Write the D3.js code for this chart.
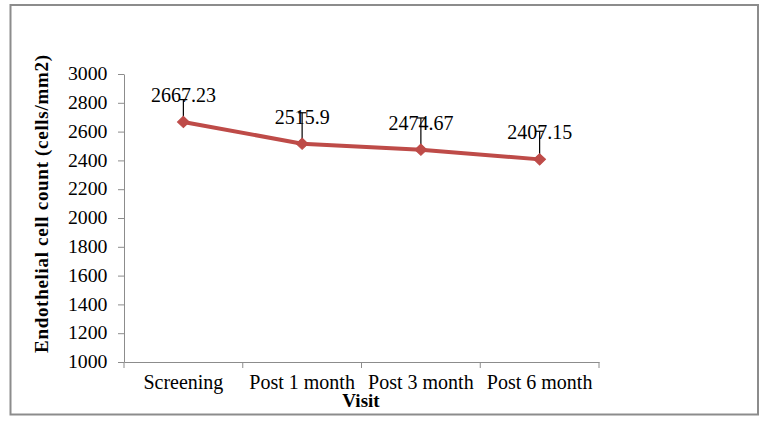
<!DOCTYPE html>
<html>
<head>
<meta charset="utf-8">
<script src="https://cdn.jsdelivr.net/npm/d3@7"></script>
<style>
  body { margin: 0; background: #fff; }
  svg { display: block; }
  text { font-family: "Liberation Serif", "Times New Roman", serif; fill: #000; }
</style>
</head>
<body>
<div class="chart-div"></div>
<script>
// chart data
var visits = ["Screening", "Post 1 month", "Post 3 month", "Post 6 month"];
var cellCount = [2667.23, 2515.9, 2474.67, 2407.15];
var errPlus = [155, 215, 220, 195];
var yTicks = [1000, 1200, 1400, 1600, 1800, 2000, 2200, 2400, 2600, 2800, 3000];

var width = 771;
var height = 424;

const svg = d3.select(".chart-div").append("svg")
    .attr("width", width)
    .attr("height", height);

// outer frame
svg.append("rect")
    .attr("x", 10.5)
    .attr("y", 5)
    .attr("width", 747.5)
    .attr("height", 409.5)
    .attr("fill", "none")
    .attr("stroke", "#8c8c8c")
    .attr("stroke-width", 2);

const x = d3.scaleBand()
    .domain(visits)
    .range([124, 599]);

const y = d3.scaleLinear()
    .domain([1000, 3000])
    .range([362, 74]);

// y axis
const yAxis = svg.append("g")
    .attr("transform", "translate(124,0)")
    .call(d3.axisLeft(y).tickValues(yTicks).tickFormat(d3.format("d"))
        .tickSize(6).tickSizeOuter(0).tickPadding(7));
yAxis.select(".domain").attr("stroke", "#8c8c8c");
yAxis.selectAll(".tick line").attr("stroke", "#8c8c8c");
yAxis.selectAll(".tick text")
    .style("font-family", "Liberation Serif")
    .style("font-size", "18px")
    .attr("transform", "scale(1.1,1)")
    .attr("x", -15);

// x axis
const xAxis = svg.append("g")
    .attr("transform", "translate(0,362)")
    .call(d3.axisBottom(x).tickSize(0).tickPadding(13));
xAxis.select(".domain").attr("stroke", "#8c8c8c");
xAxis.selectAll(".tick text")
    .style("font-family", "Liberation Serif")
    .style("font-size", "20px");
// category separators
svg.append("g").selectAll("line")
    .data(visits.concat([null]))
    .join("line")
    .attr("x1", (d, i) => 124 + i * x.bandwidth())
    .attr("x2", (d, i) => 124 + i * x.bandwidth())
    .attr("y1", 362)
    .attr("y2", 368)
    .attr("stroke", "#8c8c8c");

// axis titles
svg.append("text")
    .attr("x", 361)
    .attr("y", 407)
    .attr("text-anchor", "middle")
    .attr("font-weight", "bold")
    .style("font-size", "19px")
    .text("Visit");

svg.append("text")
    .attr("transform", "translate(48,204) rotate(-90)")
    .attr("text-anchor", "middle")
    .attr("font-weight", "bold")
    .style("font-size", "19px")
    .attr("textLength", 298)
    .attr("lengthAdjust", "spacing")
    .text("Endothelial cell count (cells/mm2)");

const cx = d => x(d) + x.bandwidth() / 2;

// the line
const line = d3.line()
    .x((d, i) => cx(visits[i]))
    .y(d => y(d));

svg.append("path")
    .datum(cellCount)
    .attr("d", line)
    .attr("fill", "none")
    .attr("stroke", "#BE4B48")
    .attr("stroke-width", 4);

// plus error bars
const eb = svg.append("g");
eb.selectAll(".ev")
    .data(cellCount)
    .join("line")
    .attr("x1", (d, i) => cx(visits[i]))
    .attr("x2", (d, i) => cx(visits[i]))
    .attr("y1", d => y(d))
    .attr("y2", (d, i) => y(d + errPlus[i]))
    .attr("stroke", "#000")
    .attr("stroke-width", 1.2);
eb.selectAll(".eh")
    .data(cellCount)
    .join("line")
    .attr("x1", (d, i) => cx(visits[i]) - 4)
    .attr("x2", (d, i) => cx(visits[i]) + 4)
    .attr("y1", (d, i) => y(d + errPlus[i]))
    .attr("y2", (d, i) => y(d + errPlus[i]))
    .attr("stroke", "#000")
    .attr("stroke-width", 1.2);

// diamond markers
svg.append("g").selectAll("path")
    .data(cellCount)
    .join("path")
    .attr("d", d3.symbol(d3.symbolDiamond2, 80))
    .attr("transform", (d, i) => "translate(" + cx(visits[i]) + "," + y(d) + ") scale(1.05,1)")
    .attr("fill", "#BE4B48")
    .attr("stroke", "#BE4B48")
    .attr("stroke-width", 1);

// value labels
svg.append("g").selectAll("text")
    .data(cellCount)
    .join("text")
    .attr("x", (d, i) => cx(visits[i]))
    .attr("y", d => y(d) - 20)
    .attr("text-anchor", "middle")
    .style("font-family", "Liberation Serif")
    .style("font-size", "20px")
    .text(d => d);
</script>
</body>
</html>
